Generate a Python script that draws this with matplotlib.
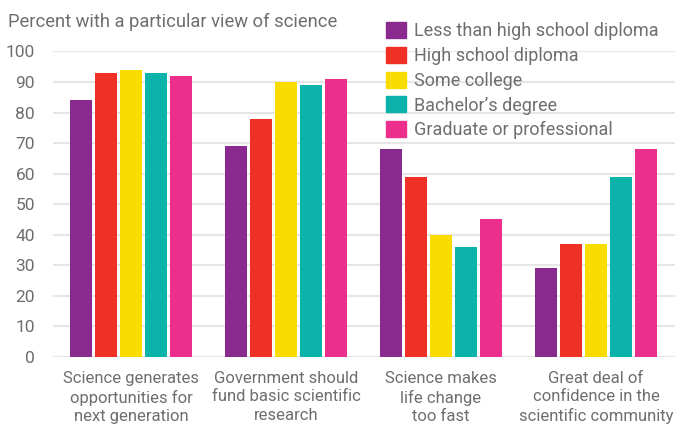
import matplotlib
matplotlib.use("Agg")
import matplotlib.pyplot as plt
import matplotlib.patches as patches
import numpy as np

plt.rcParams['font.family'] = ['Roboto', 'DejaVu Sans']

# Data
categories = ["Science generates\nopportunities for\nnext generation",
              "Government should\nfund basic scientific\nresearch",
              "Science makes\nlife change\ntoo fast",
              "Great deal of\nconfidence in the\nscientific community"]
groups = ["Less than high school diploma", "High school diploma", "Some college",
          "Bachelor\u2019s degree", "Graduate or professional"]
less_than_hs = [84, 69, 68, 29]
hs_diploma = [93, 78, 59, 37]
some_college = [94, 90, 40, 37]
bachelors = [93, 89, 36, 59]
graduate = [92, 91, 45, 68]
yticks = list(range(0, 101, 10))

series = [less_than_hs, hs_diploma, some_college, bachelors, graduate]
colors = ['#8b2a8e', '#ee3124', '#f9dd00', '#0bb3aa', '#ec2e8c']
text_gray = '#6e6e6e'

fig = plt.figure(figsize=(6.75, 4.25), dpi=100)
ax = fig.add_axes([0.0785, 0.16, 0.9215, 0.719])

x = np.arange(len(categories))
step = 0.161
width = 0.146
for i, vals in enumerate(series):
    ax.bar(x + (i - 2) * step, vals, width=width, color=colors[i], zorder=3, label=groups[i])

ax.set_xlim(-0.503, 3.51)
ax.set_ylim(0, 100)
ax.set_yticks(yticks)
ax.set_xticks(x)
ax.set_xticklabels(categories, fontsize=12, color=text_gray, linespacing=1.28)
ax.tick_params(axis='x', length=0, pad=10)
ax.tick_params(axis='y', length=0, pad=13, labelsize=12.5, labelcolor=text_gray)
for lab in ax.get_yticklabels():
    lab.set_horizontalalignment('right')
ax.grid(axis='y', color='#e6e6e6', linewidth=1.5, zorder=0)
for s in ax.spines.values():
    s.set_visible(False)

# subtitle
fig.text(8 / 675, 1 - 22 / 425, "Percent with a particular view of science",
         fontsize=13.2, color=text_gray, va='center', ha='left')

# legend
handles = [patches.Patch(color=c, label=g) for c, g in zip(colors, groups)]
leg = fig.legend(handles=handles, loc='upper left', bbox_to_anchor=(386 / 675, 1 - 22 / 425),
                 frameon=False, fontsize=13, handlelength=1.1, handleheight=1.0,
                 handletextpad=0.45, labelspacing=0.36, borderpad=0, borderaxespad=0)
for t in leg.get_texts():
    t.set_color(text_gray)

fig.savefig("out.png", dpi=100)
